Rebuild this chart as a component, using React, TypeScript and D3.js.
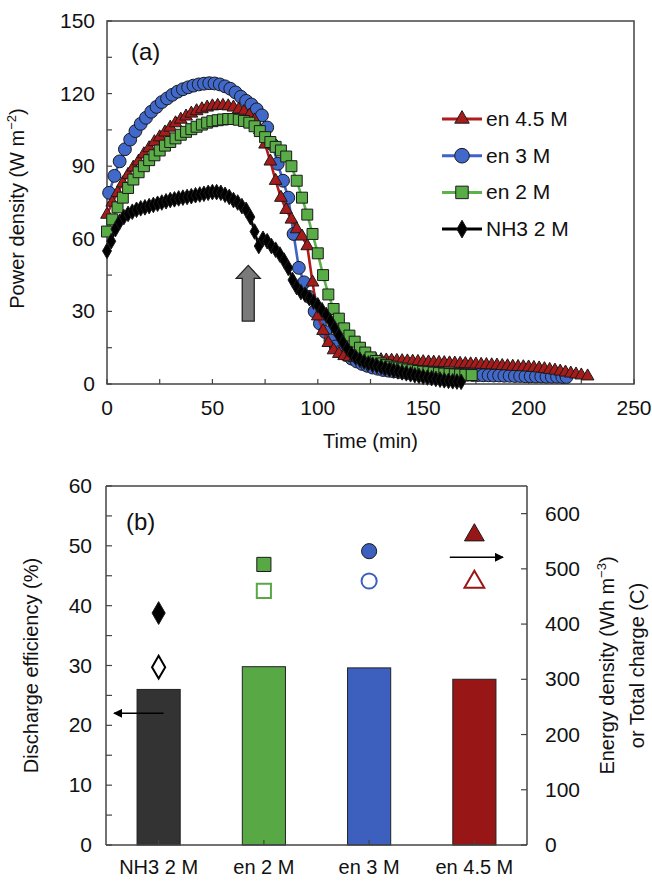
import React from 'react';
import * as d3 from 'd3';

const FONT = '"Liberation Sans", Arial, Helvetica, sans-serif';

// ---- panel (a): power density vs time ----
const en45Time = [0, 2.5, 5, 7.5, 10, 12.5, 15, 17.5, 20, 22.5, 25, 27.5, 30, 32.5, 35, 37.5, 40, 42.5, 45, 47.5, 50, 52.5, 55, 57.5, 60, 62.5, 65, 67.5, 70, 72.5, 75, 77.5, 80, 82.5, 85, 87.5, 90, 92.5, 95, 97.5, 100, 102.5, 105, 107.5, 110, 112.5, 115, 117.5, 120, 122.5, 125, 127.5, 130, 132.5, 135, 137.5, 140, 142.5, 145, 147.5, 150, 152.5, 155, 157.5, 160, 162.5, 165, 167.5, 170, 172.5, 175, 177.5, 180, 182.5, 185, 187.5, 190, 192.5, 195, 197.5, 200, 202.5, 205, 207.5, 210, 212.5, 215, 217.5, 220, 222.5, 225, 228];
const en45Power = [70, 75, 79, 83, 86.5, 89.5, 92, 95, 97.5, 100, 102, 104, 106, 107.8, 109.3, 110.6, 111.8, 112.8, 113.6, 114.3, 114.8, 115, 115, 114.8, 114.3, 113.5, 112.5, 111, 109, 105, 99, 92, 84, 77, 72, 68, 64, 61, 57, 42, 28, 22, 17, 14, 12.5, 11.6, 11.1, 10.8, 10.5, 10.3, 10.1, 10, 9.9, 9.8, 9.7, 9.6, 9.5, 9.4, 9.3, 9.2, 9.1, 9, 8.9, 8.8, 8.7, 8.6, 8.5, 8.4, 8.3, 8.2, 8.1, 8, 7.9, 7.8, 7.7, 7.5, 7.4, 7.2, 7.1, 7, 6.9, 6.7, 6.5, 6.2, 5.9, 5.6, 5.2, 4.8, 4.4, 4, 3.6, 3.2];

const en3Time = [1, 3.5, 6, 8.5, 11, 13.5, 16, 18.5, 21, 23.5, 26, 28.5, 31, 33.5, 36, 38.5, 41, 43.5, 46, 48.5, 51, 53.5, 56, 58.5, 61, 63.5, 66, 68.5, 71, 73.5, 76, 78.5, 81, 83.5, 86, 88.5, 91, 93.5, 96, 98.5, 101, 103.5, 106, 108.5, 111, 113.5, 116, 118.5, 121, 123.5, 126, 128.5, 131, 133.5, 136, 138.5, 141, 143.5, 146, 148.5, 151, 153.5, 156, 158.5, 161, 163.5, 166, 168.5, 171, 173.5, 176, 178.5, 181, 183.5, 186, 188.5, 191, 193.5, 196, 198.5, 201, 203.5, 206, 208.5, 211, 213.5, 216, 218];
const en3Power = [79, 86, 92, 97, 101, 104.5, 107.5, 110, 112.5, 114.5, 116.5, 118, 119.5, 120.8, 121.8, 122.6, 123.3, 123.8, 124.1, 124.3, 124.2, 123.8, 123, 122, 120.5, 118.7, 117, 115.5, 113.5, 111, 106, 99, 91, 84, 77, 62, 48, 42, 36, 30, 25, 21.5, 18, 15.5, 13.5, 12, 10.5, 9.3, 8.3, 7.5, 6.8, 6.3, 5.8, 5.5, 5.2, 5, 4.8, 4.6, 4.5, 4.4, 4.3, 4.2, 4.1, 4, 4, 3.9, 3.9, 3.8, 3.8, 3.7, 3.7, 3.6, 3.6, 3.5, 3.5, 3.4, 3.4, 3.3, 3.3, 3.2, 3.2, 3.1, 3.1, 3, 3, 3, 2.9, 2.9];

const en2Time = [0, 2.5, 5, 7.5, 10, 12.5, 15, 17.5, 20, 22.5, 25, 27.5, 30, 32.5, 35, 37.5, 40, 42.5, 45, 47.5, 50, 52.5, 55, 57.5, 60, 62.5, 65, 67.5, 70, 72.5, 75, 77.5, 80, 82.5, 85, 87.5, 90, 92.5, 95, 97.5, 100, 102.5, 105, 107.5, 110, 112.5, 115, 117.5, 120, 122.5, 125, 127.5, 130, 132.5, 135, 137.5, 140, 142.5, 145, 147.5, 150, 152.5, 155, 157.5, 160, 162.5, 165, 167.5, 170, 173];
const en2Power = [63, 68, 73, 77, 81, 84.5, 87.5, 90, 92.5, 94.5, 96.5, 98.5, 100, 101.5, 103, 104.2, 105.3, 106.3, 107.2, 108, 108.6, 109, 109.3, 109.5, 109.5, 109.2, 108.7, 108, 106.5, 104.5, 102, 100, 98, 96.5, 94, 90, 84, 77, 70, 62, 54, 45, 37, 31, 27, 23, 20, 17.5, 15, 13, 11, 9.5, 8.5, 7.8, 7.2, 6.8, 6.4, 6, 5.7, 5.4, 5.1, 4.9, 4.7, 4.5, 4.3, 4.1, 4, 3.9, 3.8, 3.7];

const nh3Time = [0, 2, 4, 6, 8, 10, 12, 14, 16, 18, 20, 22, 24, 26, 28, 30, 32, 34, 36, 38, 40, 42, 44, 46, 48, 50, 52, 54, 56, 58, 60, 62, 64, 66, 68, 70, 72, 74, 76, 78, 80, 82, 84, 86, 88, 90, 92, 94, 96, 98, 100, 102, 104, 106, 108, 110, 112, 114, 116, 118, 120, 122, 124, 126, 128, 130, 132, 134, 136, 138, 140, 142, 144, 146, 148, 150, 152, 154, 156, 158, 160, 162, 164, 166, 168];
const nh3Power = [55, 59, 64, 67, 69, 70.3, 71.2, 72, 72.6, 73, 73.5, 74, 74.5, 75, 75.5, 76, 76.3, 76.7, 77, 77.3, 77.6, 78, 78.3, 78.6, 79, 79.3, 79.3, 79, 78.2, 77.3, 76, 75, 73.5, 72, 69, 63, 57, 60, 59, 57, 55.5, 53.5, 51, 48, 43, 40, 38, 37, 35.5, 34, 32.5, 30.5, 28.5, 26, 23, 20, 17, 14.5, 12.5, 11, 10, 9.2, 8.5, 8, 7.5, 7, 6.5, 6, 5.6, 5.2, 4.8, 4.4, 4, 3.6, 3.3, 3, 2.7, 2.4, 2.1, 1.8, 1.5, 1.3, 1.1, 1, 0.9];

const timeTicks = [0, 50, 100, 150, 200, 250];
const powerTicks = [0, 30, 60, 90, 120, 150];

// ---- panel (b): efficiency bars and energy / charge markers ----
const solutions = ['NH3 2 M', 'en 2 M', 'en 3 M', 'en 4.5 M'];
const efficiency = [26.0, 29.8, 29.6, 27.7];
const energyDensity = [420, 508, 532, 561];
const totalCharge = [322, 460, 478, 476];
const effTicks = [0, 10, 20, 30, 40, 50, 60];
const energyTicks = [0, 100, 200, 300, 400, 500, 600];

const series = [
  { name: 'en 3 M', time: en3Time, power: en3Power, line: '#3d63c9', fill: '#4169cb', shape: d3.symbolCircle, size: 130 },
  { name: 'en 4.5 M', time: en45Time, power: en45Power, line: '#b01c1c', fill: '#a81b1b', shape: d3.symbolTriangle, size: 70 },
  { name: 'en 2 M', time: en2Time, power: en2Power, line: '#5cb24a', fill: '#5aad46', shape: d3.symbolSquare, size: 120 },
  { name: 'NH3 2 M', time: nh3Time, power: nh3Power, line: '#000', fill: '#000', shape: d3.symbolDiamond, size: 70 },
];
const legendOrder = ['en 4.5 M', 'en 3 M', 'en 2 M', 'NH3 2 M'];
const barColors = ['#333333', '#58a846', '#3d5fbd', '#981616'];
const barShapes = [d3.symbolDiamond, d3.symbolSquare, d3.symbolCircle, d3.symbolTriangle];
const barShapeSize = [150, 200, 180, 170];

const AXIS = '#444';

export default function App() {
  // panel (a) scales
  const xA = d3.scaleLinear().domain([0, 250]).range([107, 634]);
  const yA = d3.scaleLinear().domain([0, 150]).range([384, 21]);
  // panel (b) scales
  const xB = d3.scaleBand().domain(solutions).range([106, 527]).paddingInner(0.59).paddingOuter(0.295);
  const yB = d3.scaleLinear().domain([0, 60]).range([845, 486]);
  const yR = d3.scaleLinear().domain([0, 650]).range([845, 486]);

  const sym = (t, s) => d3.symbol().type(t).size(s)();

  const [ax0, ax1] = xA.range();
  const [ay0, ay1] = yA.range();
  const bx0 = 106, bx1 = 527;
  const [by0, by1] = yB.range();

  const tA = d3.range(0, 251, 25);
  const tAy = d3.range(0, 151, 15);
  const tBy = d3.range(0, 61, 5);

  const arrowT = 67;
  const arrowX = xA(arrowT);
  const aTop = yA(49), aBot = yA(26);

  return (
    <svg width={652} height={883} style={{ position: 'absolute', left: 0, top: 0, background: '#fff' }} fontFamily={FONT}>
      <defs>
        <marker id="ah" viewBox="0 0 10 10" refX="9" refY="5" markerWidth="6" markerHeight="6" orient="auto-start-reverse">
          <path d="M0,0 L10,5 L0,10 z" fill="#000" />
        </marker>
      </defs>

      {/* ===== panel (a) ===== */}
      <rect x={ax0} y={ay1} width={ax1 - ax0} height={ay0 - ay1} fill="none" stroke={AXIS} strokeWidth={1.5} />
      {tA.map(t => <line key={'xa' + t} x1={xA(t)} x2={xA(t)} y1={ay0} y2={ay0 - 5} stroke={AXIS} strokeWidth={1.2} />)}
      {tAy.map(v => <line key={'ya' + v} x1={ax0} x2={ax0 + 5} y1={yA(v)} y2={yA(v)} stroke={AXIS} strokeWidth={1.2} />)}
      {timeTicks.map(t => <text key={'xl' + t} x={xA(t)} y={ay0 + 31} fontSize={21} textAnchor="middle" fill="#111">{t}</text>)}
      {powerTicks.map(v => <text key={'yl' + v} x={ax0 - 12} y={yA(v) + 7} fontSize={21} textAnchor="end" fill="#111">{v}</text>)}
      <text x={(ax0 + ax1) / 2} y={ay0 + 64} fontSize={20} textAnchor="middle" fill="#111">Time (min)</text>
      <text transform={`translate(24,${(ay0 + ay1) / 2 + 6}) rotate(-90)`} fontSize={20} textAnchor="middle" fill="#111">
        Power density (W m<tspan dy={-8} fontSize={13}>−2</tspan><tspan dy={8}>)</tspan>
      </text>
      <text x={131} y={60} fontSize={24} fill="#111">(a)</text>

      {series.map(s => {
        const pts = s.time.map((t, i) => [xA(t), yA(s.power[i])]);
        const path = d3.line()(pts);
        return (
          <g key={s.name}>
            <path d={path} fill="none" stroke={s.line} strokeWidth={2.6} />
            {pts.map((p, i) => (
              <path key={i} d={sym(s.shape, s.size)} transform={`translate(${p[0]},${p[1]})`} fill={s.fill} stroke="#1a1a1a" strokeWidth={1} />
            ))}
          </g>
        );
      })}

      {/* gray arrow */}
      <path d={`M${arrowX - 6},${aBot} L${arrowX - 6},${aTop + 13} L${arrowX - 12},${aTop + 13} L${arrowX},${aTop} L${arrowX + 12},${aTop + 13} L${arrowX + 6},${aTop + 13} L${arrowX + 6},${aBot} Z`}
        fill="#7a7a7a" stroke="#222" strokeWidth={1.3} />

      {/* legend */}
      {legendOrder.map((n, i) => {
        const s = series.find(d => d.name === n);
        const y = 119 + i * 36.7;
        return (
          <g key={'lg' + n}>
            <line x1={442} x2={482} y1={y} y2={y} stroke={s.line} strokeWidth={3} />
            <path d={sym(s.shape, s.size * 1.3)} transform={`translate(462,${y})`} fill={s.fill} stroke="#1a1a1a" strokeWidth={1} />
            <text x={486} y={y + 7} fontSize={21} fill="#111">{n}</text>
          </g>
        );
      })}

      {/* ===== panel (b) ===== */}
      {solutions.map((c, i) => (
        <rect key={'bar' + c} x={xB(c)} y={yB(efficiency[i])} width={xB.bandwidth()} height={by0 - yB(efficiency[i])}
          fill={barColors[i]} stroke="#222" strokeWidth={1} />
      ))}
      <line x1={bx0} x2={bx1} y1={by1} y2={by1} stroke={AXIS} strokeWidth={1.5} />
      <line x1={bx0} x2={bx1} y1={by0} y2={by0} stroke={AXIS} strokeWidth={1.5} />
      <line x1={bx0} x2={bx0} y1={by1} y2={by0} stroke={AXIS} strokeWidth={1.5} />
      <line x1={bx1} x2={bx1} y1={by1} y2={by0} stroke={AXIS} strokeWidth={1.5} />
      {tBy.map(v => <line key={'yb' + v} x1={bx0} x2={bx0 + 6} y1={yB(v)} y2={yB(v)} stroke={AXIS} strokeWidth={1.2} />)}
      {energyTicks.map(v => <line key={'yr' + v} x1={bx1 - 6} x2={bx1} y1={yR(v)} y2={yR(v)} stroke={AXIS} strokeWidth={1.2} />)}
      {solutions.map(c => {
        const cx = xB(c) + xB.bandwidth() / 2;
        return <line key={'xb' + c} x1={cx} x2={cx} y1={by0} y2={by0 - 5} stroke={AXIS} strokeWidth={1.2} />;
      })}
      {effTicks.map(v => <text key={'ebl' + v} x={bx0 - 14} y={yB(v) + 7} fontSize={21} textAnchor="end" fill="#111">{v}</text>)}
      {energyTicks.map(v => <text key={'erl' + v} x={bx1 + 18} y={yR(v) + 7} fontSize={21} textAnchor="start" fill="#111">{v}</text>)}
      {solutions.map(c => (
        <text key={'cl' + c} x={xB(c) + xB.bandwidth() / 2} y={by0 + 29} fontSize={20} textAnchor="middle" fill="#111">{c}</text>
      ))}
      <text transform={`translate(38,${(by0 + by1) / 2}) rotate(-90)`} fontSize={20} textAnchor="middle" fill="#111">Discharge efficiency (%)</text>
      <text transform={`translate(614,${(by0 + by1) / 2}) rotate(-90)`} fontSize={20} textAnchor="middle" fill="#111">
        Energy density (Wh m<tspan dy={-8} fontSize={13}>−3</tspan><tspan dy={8}>)</tspan>
      </text>
      <text transform={`translate(644,${(by0 + by1) / 2}) rotate(-90)`} fontSize={20} textAnchor="middle" fill="#111">or Total charge (C)</text>
      <text x={126} y={530} fontSize={24} fill="#111">(b)</text>

      {solutions.map((c, i) => {
        const cx = xB(c) + xB.bandwidth() / 2;
        const col = barColors[i] === '#333333' ? '#000' : barColors[i];
        return (
          <g key={'mk' + c}>
            <path d={sym(barShapes[i], barShapeSize[i])} transform={`translate(${cx},${yR(energyDensity[i])})`} fill={col} stroke="#1a1a1a" strokeWidth={1} />
            <path d={sym(barShapes[i], barShapeSize[i])} transform={`translate(${cx},${yR(totalCharge[i])})`} fill="#fff" stroke={col} strokeWidth={2} />
          </g>
        );
      })}

      {/* axis arrows */}
      <line x1={xB('NH3 2 M') + xB.bandwidth() / 2 + 5} x2={bx0 + 8} y1={yB(22)} y2={yB(22)} stroke="#000" strokeWidth={1.5} markerEnd="url(#ah)" />
      <line x1={xB('en 4.5 M') - 3} x2={bx1 - 24} y1={yR(521)} y2={yR(521)} stroke="#000" strokeWidth={1.5} markerEnd="url(#ah)" />
    </svg>
  );
}
